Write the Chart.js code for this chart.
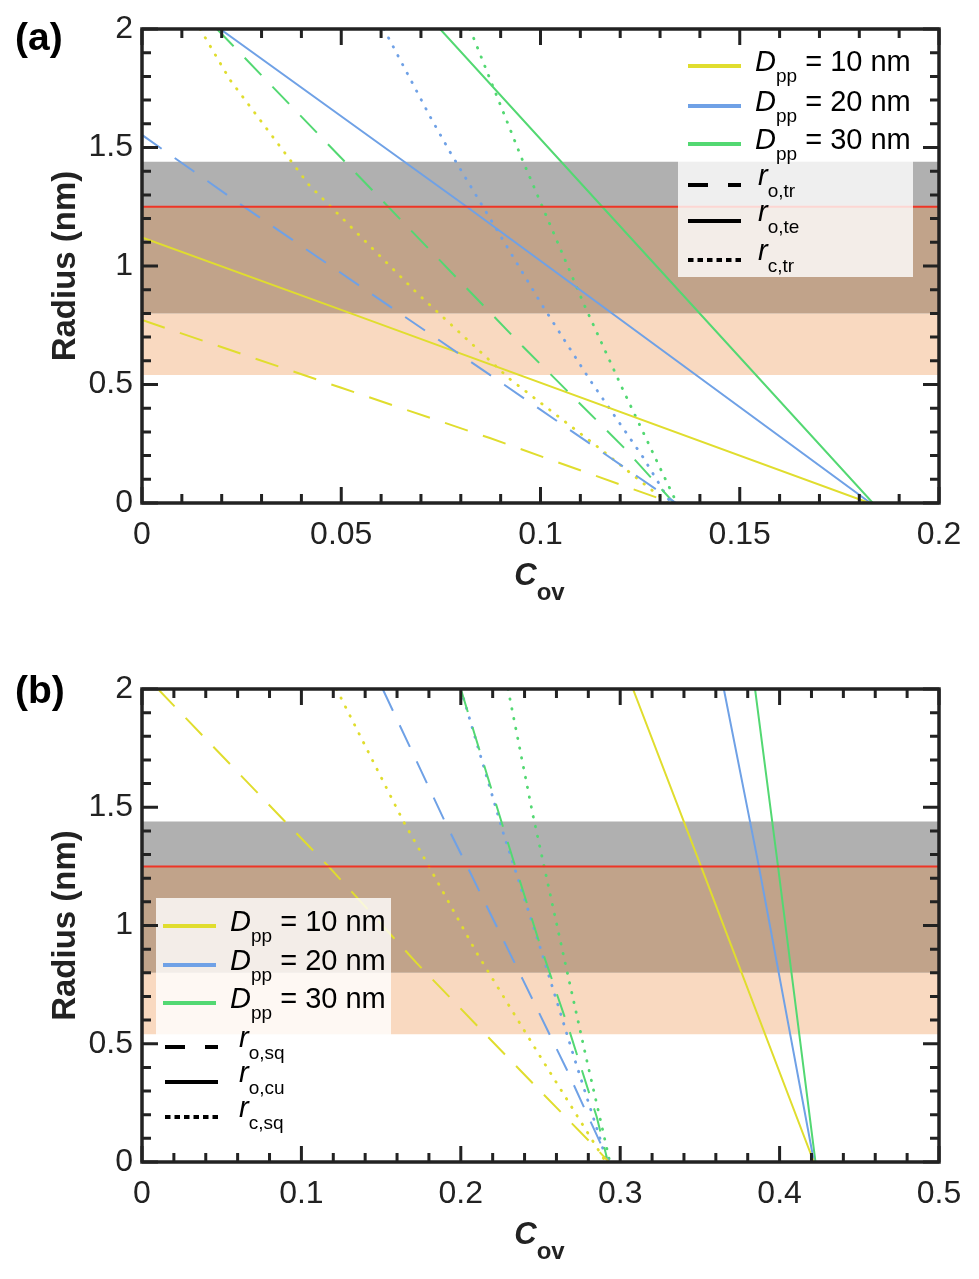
<!DOCTYPE html>
<html>
<head>
<meta charset="utf-8">
<script src="https://cdn.jsdelivr.net/npm/chart.js@4.4.0/dist/chart.umd.min.js"></script>
<style>
  html, body { margin:0; padding:0; background:#fff; }
  #wrap { position:relative; width:979px; height:1279px; }
  canvas { position:absolute; left:0; }
  #chartA { top:0; }
  #chartB { top:640px; }
</style>
</head>
<body>
<div id="wrap">
  <canvas id="chartA" width="979" height="640"></canvas>
  <canvas id="chartB" width="979" height="639"></canvas>
</div>
<script>
// axis limits and ticks
const aXRange = [0, 0.2];
const bXRange = [0, 0.5];
const yRange = [0, 2];
const aXTicks = [0, 0.05, 0.1, 0.15, 0.2];
const aXMinor = [0.01, 0.02, 0.03, 0.04, 0.06, 0.07, 0.08, 0.09, 0.11, 0.12, 0.13, 0.14, 0.16, 0.17, 0.18, 0.19];
const bXTicks = [0, 0.1, 0.2, 0.3, 0.4, 0.5];
const bXMinor = [0.02, 0.04, 0.06, 0.08, 0.12, 0.14, 0.16, 0.18, 0.22, 0.24, 0.26, 0.28, 0.32, 0.34, 0.36, 0.38, 0.42, 0.44, 0.46, 0.48];
const yTicks = [0, 0.5, 1, 1.5, 2];
const yMinor = [0.1, 0.2, 0.3, 0.4, 0.6, 0.7, 0.8, 0.9, 1.1, 1.2, 1.3, 1.4, 1.6, 1.7, 1.8, 1.9];

const diameters = ['10', '20', '30'];   // D_pp, nm

// shaded radius ranges (nm) and the red reference level
const bandGrey = [1.25, 1.44];
const bandBrown = [0.80, 1.25];
const bandPeach = [0.54, 0.80];
const redLevel = 1.25;

// ---- panel (a) ----
// r_o,tr (dashed)
const aOtrX10 = [0, 0.05, 0.0873, 0.133];
const aOtrY10 = [0.772, 0.486, 0.274, 0];
const aOtrX20 = [0, 0.025, 0.091, 0.134];
const aOtrY20 = [1.553, 1.257, 0.498, 0];
const aOtrX30 = [0.0188, 0.0505, 0.0957, 0.1208, 0.1335];
const aOtrY30 = [2, 1.447, 0.658, 0.236, 0];
// r_o,te (solid)
const aOteX10 = [0, 0.05, 0.1825];
const aOteY10 = [1.12, 0.815, 0];
const aOteX20 = [0.0196, 0.0815, 0.1828];
const aOteY20 = [2, 1.25, 0];
const aOteX30 = [0.0748, 0.1155, 0.1834];
const aOteY30 = [2, 1.25, 0];
// r_c,tr (dotted)
const aCtrX10 = [0.0146, 0.0221, 0.0419, 0.069, 0.0923, 0.1144, 0.132];
const aCtrY10 = [2, 1.785, 1.342, 0.886, 0.523, 0.236, 0];
const aCtrX20 = [0.0607, 0.0724, 0.0773, 0.1004, 0.1124, 0.1257, 0.1327];
const aCtrY20 = [2, 1.627, 1.481, 0.835, 0.519, 0.194, 0];
const aCtrX30 = [0.0823, 0.0953, 0.111, 0.1205, 0.13, 0.1342];
const aCtrY30 = [2, 1.454, 0.835, 0.485, 0.148, 0];

// ---- panel (b) ----
// r_o,sq (dashed)
const bOsqX10 = [0.01, 0.0897, 0.117, 0.1725, 0.245, 0.281, 0.293];
const bOsqY10 = [2, 1.44, 1.25, 0.84, 0.334, 0.085, 0];
const bOsqX20 = [0.151, 0.19, 0.204, 0.239, 0.2666, 0.293];
const bOsqY20 = [2, 1.44, 1.25, 0.77, 0.389, 0];
const bOsqX30 = [0.2, 0.2186, 0.2329, 0.2487, 0.2686, 0.2853, 0.2923];
const bOsqY30 = [2, 1.59, 1.277, 0.94, 0.545, 0.19, 0];
// r_o,cu (solid)
const bOcuX10 = [0.308, 0.3507, 0.4215];
const bOcuY10 = [2, 1.25, 0];
const bOcuX20 = [0.365, 0.387, 0.4216];
const bOcuY20 = [2, 1.25, 0];
const bOcuX30 = [0.3846, 0.399, 0.4225];
const bOcuY30 = [2, 1.25, 0];
// r_c,sq (dotted)
const bCsqX10 = [0.122, 0.164, 0.18, 0.21, 0.25, 0.291];
const bCsqY10 = [2, 1.44, 1.25, 0.884, 0.444, 0];
const bCsqX20 = [0.2, 0.2267, 0.2497, 0.2716, 0.2873, 0.2915];
const bCsqY20 = [2, 1.39, 0.909, 0.431, 0.10, 0];
const bCsqX30 = [0.2296, 0.2453, 0.2641, 0.279, 0.2886, 0.2935];
const bCsqY30 = [2, 1.465, 0.884, 0.431, 0.148, 0];

const FF = '"Liberation Sans", Arial, Helvetica, sans-serif';
const INK = '#222222';
const COLORS = ['#e0dd2e', '#6fa1e6', '#53d872'];
const DASH = [24, 16];
const TICK_FONT = 32;
const LEG_FONT = 29;

function pts(xs, ys) { return xs.map((x, i) => ({ x: x, y: ys[i] })); }

function series(xs, ys, color, style) {
  const ds = {
    data: pts(xs, ys), borderColor: color, borderWidth: 2, pointRadius: 0,
    fill: false, tension: 0, order: 1, borderCapStyle: 'butt'
  };
  if (style === 'dash') ds.borderDash = DASH;
  if (style === 'dot') { ds.borderDash = [0.5, 9.5]; ds.borderCapStyle = 'round'; ds.borderWidth = 2.8; }
  return ds;
}

function band(range, xr, color) {
  return {
    data: pts(xr, [range[1], range[1]]), fill: { value: range[0] },
    backgroundColor: color, borderWidth: 0, pointRadius: 0, order: 10
  };
}

function runs(ctx, x, y, parts) {
  parts.forEach(p => {
    ctx.font = p[1];
    ctx.fillText(p[0], x, y + p[2]);
    x += ctx.measureText(p[0]).width;
  });
  return x;
}

function hline(ctx, x0, x1, y) {
  ctx.beginPath(); ctx.moveTo(x0, y); ctx.lineTo(x1, y); ctx.stroke();
}

function drawLegend(ctx, L) {
  ctx.fillStyle = 'rgba(255,255,255,0.8)';
  ctx.fillRect(L.box[0], L.box[1], L.box[2] - L.box[0], L.box[3] - L.box[1]);
  ctx.textAlign = 'left';
  ctx.textBaseline = 'alphabetic';
  L.colorRows.forEach((yy, i) => {
    ctx.strokeStyle = COLORS[i]; ctx.lineWidth = 4; ctx.setLineDash([]);
    hline(ctx, L.hx[0], L.hx[1], yy);
    ctx.fillStyle = '#000';
    runs(ctx, L.dx, yy, [
      ['D', 'italic ' + LEG_FONT + 'px ' + FF, 5],
      ['pp', '19px ' + FF, 16],
      [' = ' + diameters[i] + ' nm', LEG_FONT + 'px ' + FF, 5]
    ]);
  });
  const dashes = [[20, 20], [], [5.5, 4]];
  L.styleRows.forEach((yy, i) => {
    ctx.strokeStyle = '#000'; ctx.lineWidth = 4; ctx.lineCap = 'butt';
    ctx.setLineDash(dashes[i]);
    hline(ctx, L.sx[0], L.sx[1], yy);
    ctx.setLineDash([]);
    ctx.fillStyle = '#000';
    runs(ctx, L.rx, yy, [
      ['r', 'italic ' + LEG_FONT + 'px ' + FF, 0],
      [L.subs[i], '19px ' + FF, 11.5]
    ]);
  });
}

function drawFrame(chart, o) {
  const ctx = chart.ctx, ca = chart.chartArea, sx = chart.scales.x, sy = chart.scales.y;
  ctx.strokeStyle = INK; ctx.lineWidth = 3; ctx.setLineDash([]); ctx.lineCap = 'butt';
  const tx = (vals, len) => vals.forEach(v => {
    const p = sx.getPixelForValue(v);
    ctx.beginPath();
    ctx.moveTo(p, ca.bottom); ctx.lineTo(p, ca.bottom - len);
    ctx.moveTo(p, ca.top); ctx.lineTo(p, ca.top + len);
    ctx.stroke();
  });
  const ty = (vals, len) => vals.forEach(v => {
    const p = sy.getPixelForValue(v);
    ctx.beginPath();
    ctx.moveTo(ca.left, p); ctx.lineTo(ca.left + len, p);
    ctx.moveTo(ca.right, p); ctx.lineTo(ca.right - len, p);
    ctx.stroke();
  });
  tx(o.xMajor, 16); tx(o.xMinor, 9);
  ty(yTicks, 16); ty(yMinor, 9);
  ctx.lineWidth = 3.5;
  ctx.strokeRect(ca.left, ca.top, ca.right - ca.left, ca.bottom - ca.top);
}

const decor = {
  id: 'decor',
  afterDraw(chart, args, o) {
    const ctx = chart.ctx, ca = chart.chartArea;
    ctx.save();
    drawLegend(ctx, o.legend);
    drawFrame(chart, o);
    // panel label
    ctx.fillStyle = '#000';
    ctx.textAlign = 'left'; ctx.textBaseline = 'alphabetic';
    ctx.font = 'bold 39px ' + FF;
    ctx.fillText(o.label, 15, o.labelY);
    // y title
    ctx.save();
    ctx.translate(66, (ca.top + ca.bottom) / 2);
    ctx.rotate(-Math.PI / 2);
    ctx.textAlign = 'center'; ctx.textBaseline = 'middle';
    ctx.font = 'bold 33px ' + FF;
    ctx.fillStyle = INK;
    ctx.fillText('Radius (nm)', 0, 0);
    ctx.restore();
    // x title C_ov
    ctx.font = 'italic bold 31px ' + FF;
    const w1 = ctx.measureText('C').width;
    ctx.font = 'bold 24px ' + FF;
    const w2 = ctx.measureText('ov').width;
    ctx.fillStyle = INK;
    const x0 = (ca.left + ca.right) / 2 - (w1 + w2 + 2) / 2;
    runs(ctx, x0, ca.bottom + 82, [
      ['C', 'italic bold 31px ' + FF, 0],
      ['ov', 'bold 24px ' + FF, 15]
    ]);
    ctx.restore();
  }
};

function makeChart(id, xr, xMajor, xMinor, lines, pad, decorOpts) {
  const datasets = lines.concat([
    { data: pts(xr, [redLevel, redLevel]), borderColor: '#ee3526', borderWidth: 2, pointRadius: 0, fill: false, order: 0 },
    band(bandGrey, xr, '#b0b0b0'),
    band(bandBrown, xr, '#c1a38a'),
    band(bandPeach, xr, '#f9d9c0')
  ]);
  return new Chart(document.getElementById(id), {
    type: 'line',
    data: { datasets: datasets },
    options: {
      responsive: false,
      animation: false,
      events: [],
      layout: { padding: pad },
      plugins: { legend: { display: false }, tooltip: { enabled: false }, decor: decorOpts },
      scales: {
        x: {
          type: 'linear', min: xr[0], max: xr[1],
          afterBuildTicks: s => { s.ticks = xMajor.map(v => ({ value: v })); },
          afterFit: s => { s.height = 60; },
          grid: { display: false, drawTicks: false },
          border: { display: false },
          ticks: { font: { size: TICK_FONT, family: FF }, color: INK, padding: 13, maxRotation: 0, callback: v => String(v) }
        },
        y: {
          type: 'linear', min: yRange[0], max: yRange[1],
          afterBuildTicks: s => { s.ticks = yTicks.map(v => ({ value: v })); },
          afterFit: s => { s.width = 142; },
          grid: { display: false, drawTicks: false },
          border: { display: false },
          ticks: { font: { size: TICK_FONT, family: FF }, color: INK, padding: 9, callback: v => String(v) }
        }
      }
    },
    plugins: [decor]
  });
}

const linesA = [
  series(aOtrX10, aOtrY10, COLORS[0], 'dash'),
  series(aOtrX20, aOtrY20, COLORS[1], 'dash'),
  series(aOtrX30, aOtrY30, COLORS[2], 'dash'),
  series(aOteX10, aOteY10, COLORS[0], 'solid'),
  series(aOteX20, aOteY20, COLORS[1], 'solid'),
  series(aOteX30, aOteY30, COLORS[2], 'solid'),
  series(aCtrX10, aCtrY10, COLORS[0], 'dot'),
  series(aCtrX20, aCtrY20, COLORS[1], 'dot'),
  series(aCtrX30, aCtrY30, COLORS[2], 'dot')
];

const linesB = [
  series(bOsqX10, bOsqY10, COLORS[0], 'dash'),
  series(bOsqX20, bOsqY20, COLORS[1], 'dash'),
  series(bOsqX30, bOsqY30, COLORS[2], 'dash'),
  series(bOcuX10, bOcuY10, COLORS[0], 'solid'),
  series(bOcuX20, bOcuY20, COLORS[1], 'solid'),
  series(bOcuX30, bOcuY30, COLORS[2], 'solid'),
  series(bCsqX10, bCsqY10, COLORS[0], 'dot'),
  series(bCsqX20, bCsqY20, COLORS[1], 'dot'),
  series(bCsqX30, bCsqY30, COLORS[2], 'dot')
];

makeChart('chartA', aXRange, aXTicks, aXMinor, linesA,
  { top: 29, right: 40, bottom: 77, left: 0 },
  {
    label: '(a)', labelY: 50, xMajor: aXTicks, xMinor: aXMinor,
    legend: {
      box: [678, 44, 913, 277], hx: [688, 741], dx: 755,
      colorRows: [66, 106, 144],
      sx: [688, 741], rx: 758, styleRows: [185, 221, 260],
      subs: ['o,tr', 'o,te', 'c,tr']
    }
  });

makeChart('chartB', bXRange, bXTicks, bXMinor, linesB,
  { top: 49, right: 40, bottom: 57, left: 0 },
  {
    label: '(b)', labelY: 63, xMajor: bXTicks, xMinor: bXMinor,
    legend: {
      box: [156, 258, 391, 495], hx: [163, 216], dx: 230,
      colorRows: [286, 325, 363],
      sx: [165, 218], rx: 239, styleRows: [407, 442, 477],
      subs: ['o,sq', 'o,cu', 'c,sq']
    }
  });
</script>
</body>
</html>
